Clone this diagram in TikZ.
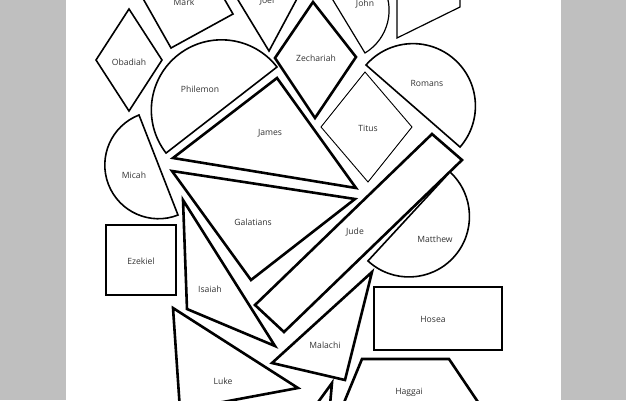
\documentclass[tikz,border=0pt]{standalone}
\usepackage{fontspec}
\setmainfont{Open Sans}
\begin{document}
\begin{tikzpicture}[x=1pt,y=-1pt,
  sh/.style={draw=black,line width=1.6pt,fill=white,line join=miter},
  shk/.style={draw=black,line width=2.6pt,fill=white,line join=miter},
  thin/.style={draw=black,line width=0.9pt,fill=white},
  lbl/.style={font=\fontsize{8.6}{10}\selectfont,text=black!80}]
\fill[gray!50] (0,0) rectangle (626,400);
\useasboundingbox (0,0) rectangle (626,400);
\fill[white] (66,0) rectangle (561,400);
\clip (66,0) rectangle (561,400);
% Mark
\draw[sh] (141,-5) -- (171,48) -- (233,14) -- (222,-5);
\node[lbl] (mark) at (184,2) {Mark};
% Joel
\draw[sh] (235,-5) -- (269,51) -- (299,-5);
\node[lbl] (joel) at (267,1) {Joel};
% John
\draw[thin,line width=1.2pt] (365,53) arc[start angle=58.8,end angle=-121.2,radius=50] -- cycle;
\node[lbl] (john) at (365,4) {John};
% top right quad
\draw[thin,line width=1.2pt] (397,-5) -- (397,38) -- (460,7) -- (460,-5);
% Obadiah
\draw[sh] (96,60) -- (129,9) -- (162,60) -- (129,111) -- cycle;
\node[lbl] (obadiah) at (129,62) {Obadiah};
% Zechariah
\draw[shk] (275,58) -- (313,2) -- (356,57) -- (315,118) -- cycle;
\node[lbl] (zech) at (316,58) {Zechariah};
% Philemon
\draw[sh] (277,67) arc[start angle=-37.8,end angle=-217.8,radius=70.2] -- cycle;
\node[lbl] (philemon) at (200,89) {Philemon};
% Romans
\draw[sh] (366,65) arc[start angle=-138.9,end angle=41.1,radius=62.4] -- cycle;
\node[lbl] (romans) at (427,83) {Romans};
% Titus
\draw[thin] (321,127) -- (365,72) -- (412,127) -- (368,182) -- cycle;
\node[lbl] (titus) at (368,128) {Titus};
% James
\draw[shk] (173,158) -- (277,78) -- (356,188) -- cycle;
\node[lbl] (james) at (270,133) {James};
% Micah
\draw[sh] (139,115) arc[start angle=-111.3,end angle=-291.3,radius=53.7] -- cycle;
\node[lbl] (micah) at (134,175) {Micah};
% Galatians
\draw[shk] (172,171) -- (355,199) -- (251,280) -- cycle;
\node[lbl] (galatians) at (253,222) {Galatians};
% Jude
\draw[shk] (255,305) -- (284,332) -- (462,160) -- (432,134) -- cycle;
\node[lbl] (jude) at (355,232) {Jude};
% Matthew
\draw[sh] (450,172) arc[start angle=-47.3,end angle=132.7,radius=60.5] -- cycle;
\node[lbl] (matthew) at (435,239) {Matthew};
% Ezekiel
\draw[sh] (106,225) rectangle (176,295);
\node[lbl] (ezekiel) at (141,261) {Ezekiel};
% Isaiah
\draw[shk] (183,200) -- (187,309) -- (275,346) -- cycle;
\node[lbl] (isaiah) at (210,289) {Isaiah};
% Luke
\draw[shk] (173,308) -- (180,410) -- (298,388) -- cycle;
\node[lbl] (luke) at (223,381) {Luke};
% Malachi
\draw[shk] (272,363) -- (345,380) -- (372,272) -- cycle;
\node[lbl] (malachi) at (325,345) {Malachi};
% small bottom triangle
\draw[shk] (316,405) -- (332,383) -- (330,405);
% Hosea
\draw[sh] (374,287) rectangle (502,350);
\node[lbl] (hosea) at (433,319) {Hosea};
% Haggai
\draw[shk] (343,405) -- (362,359) -- (449,359) -- (480,405);
\node[lbl] (haggai) at (409,392) {Haggai};
\end{tikzpicture}
\end{document}
